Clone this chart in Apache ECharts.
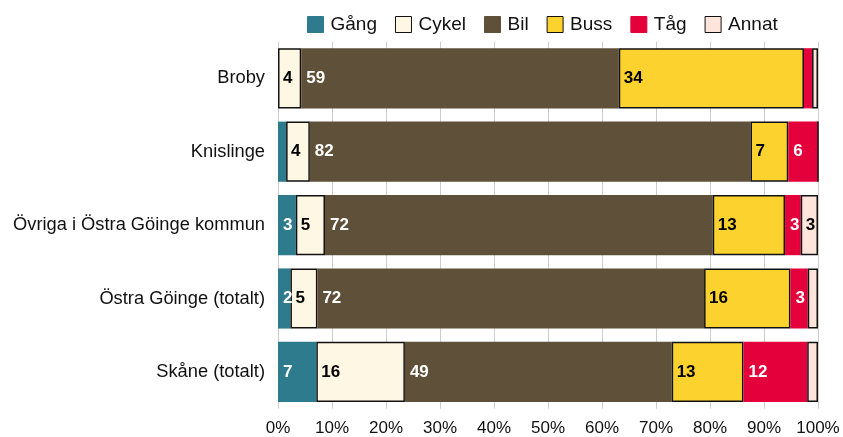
<!DOCTYPE html>
<html>
<head>
<meta charset="utf-8">
<script src="https://cdn.jsdelivr.net/npm/echarts@6/dist/echarts.min.js"></script>
<style>
  html, body { margin: 0; padding: 0; background: #fff; }
  #chart { width: 843px; height: 437px; }
</style>
</head>
<body>
<div id="chart"></div>
<script>
// Andel resor per färdmedel (%)
const categories = ['Broby', 'Knislinge', 'Övriga i Östra Göinge kommun', 'Östra Göinge (totalt)', 'Skåne (totalt)']
const gang  = [0,    1.5,  3.3,  2.3,  7.1]
const cykel = [4.3,  4.4,  5.4,  5.0,  16.4]
const bil   = [58.8, 81.6, 71.8, 71.6, 49.4]
const buss  = [34.3, 7.0,  13.4, 16.0, 13.3]
const tag   = [1.5,  5.5,  2.9,  3.2,  11.8]
const annat = [1.1,  0,    3.2,  1.9,  2.0]
const xTicks = [0, 10, 20, 30, 40, 50, 60, 70, 80, 90, 100]

const font = 'Liberation Sans, Arial, sans-serif'

const chart = echarts.init(document.getElementById('chart'))

const makeSeries = (name, data, color, labelColor, bordered) => ({
  name,
  type: 'bar',
  stack: 'total',
  data,
  barCategoryGap: '18%',
  itemStyle: {
    color,
    borderColor: bordered ? '#111' : color,
    borderWidth: bordered ? 1.5 : 0
  },
  label: {
    show: true,
    position: 'insideLeft',
    distance: 5,
    fontFamily: font,
    fontSize: 17,
    fontWeight: 'bold',
    color: labelColor,
    formatter: p => (p.value >= 2.2 ? Math.round(p.value) : '')
  }
})

chart.setOption({
  animation: false,
  textStyle: { fontFamily: font },
  legend: {
    top: 10,
    left: 302,
    icon: 'rect',
    itemWidth: 16,
    itemHeight: 16,
    itemGap: 18,
    itemStyle: { borderWidth: 1 },
    textStyle: { fontSize: 19, color: '#111', fontFamily: font, padding: [0, 0, 0, 2] }
  },
  grid: { left: 278, right: 25, top: 41.6, bottom: 28.4 },
  xAxis: {
    type: 'value',
    min: 0,
    max: 100,
    interval: 10,
    axisLine: { show: false },
    axisTick: { show: false },
    splitLine: { show: true, lineStyle: { color: '#cdcdcd', width: 1 } },
    axisLabel: {
      fontSize: 17,
      color: '#111',
      margin: 11,
      formatter: v => (xTicks.includes(v) ? v + '%' : '')
    }
  },
  yAxis: {
    type: 'category',
    data: categories,
    inverse: true,
    axisLine: { show: false },
    axisTick: { show: false },
    axisLabel: { fontSize: 18.3, color: '#111', margin: 13 }
  },
  series: [
    makeSeries('Gång', gang, '#2f7b8e', '#fff', false),
    makeSeries('Cykel', cykel, '#fef7e4', '#000', true),
    makeSeries('Bil', bil, '#5f5139', '#fff', false),
    makeSeries('Buss', buss, '#fcd22f', '#000', true),
    makeSeries('Tåg', tag, '#e4003a', '#fff', false),
    makeSeries('Annat', annat, '#fde5dc', '#000', true)
  ]
})

window.addEventListener('resize', () => chart.resize())
</script>
</body>
</html>
